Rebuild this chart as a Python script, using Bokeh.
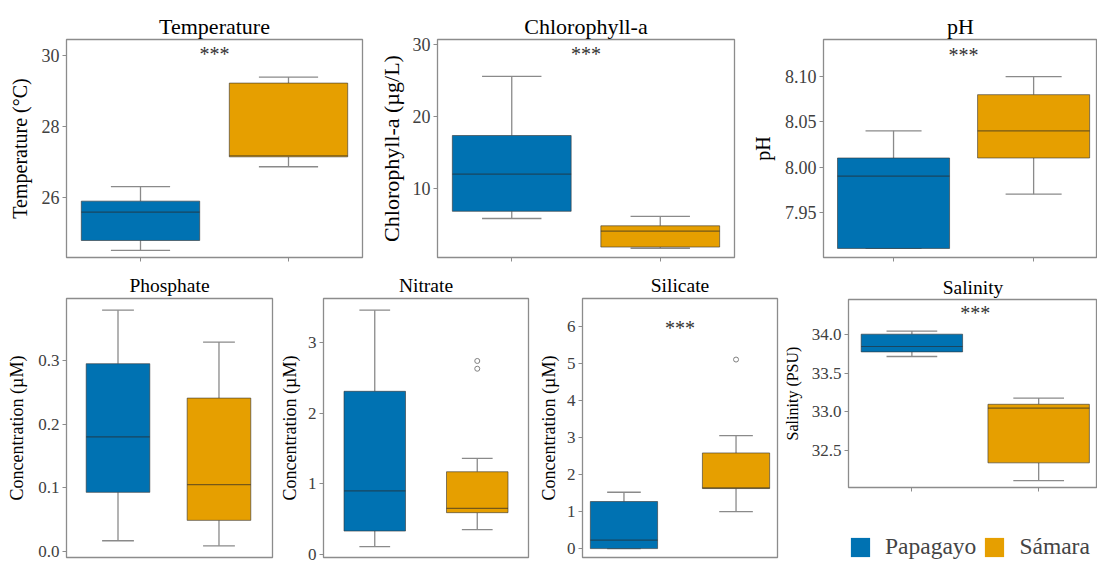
from bokeh.plotting import figure
from bokeh.layouts import row, column
from bokeh.models import (FixedTicker, Range1d, Legend, LegendItem,
                          ColumnDataSource, NumeralTickFormatter,
                          CustomJSTickFormatter)
from bokeh.embed import file_html
from bokeh.resources import INLINE
from bokeh.core.properties import value

FONT = "Liberation Serif"
BLUE = "#0072B2"
ORANGE = "#E69F00"

# ---------------- data ----------------
sites = ["Papagayo", "Sámara"]
site_pos = [1, 2]
site_colors = [BLUE, ORANGE]

# Temperature (°C)
temp_lower = [24.50, 26.86]
temp_q1 = [24.78, 27.14]
temp_median = [25.58, 27.17]
temp_q3 = [25.89, 29.22]
temp_upper = [26.30, 29.39]
temp_ticks = [26, 28, 30]

# Chlorophyll-a (µg/L)
chl_lower = [5.9, 1.78]
chl_q1 = [6.9, 1.95]
chl_median = [12.05, 4.15]
chl_q3 = [17.4, 4.89]
chl_upper = [25.6, 6.2]
chl_ticks = [10, 20, 30]

# pH
ph_lower = [7.91, 7.97]
ph_q1 = [7.91, 8.01]
ph_median = [7.99, 8.04]
ph_q3 = [8.01, 8.08]
ph_upper = [8.04, 8.10]
ph_ticks = [7.95, 8.00, 8.05, 8.10]

# Phosphate (µM)
po4_lower = [0.017, 0.009]
po4_q1 = [0.093, 0.049]
po4_median = [0.180, 0.105]
po4_q3 = [0.295, 0.241]
po4_upper = [0.379, 0.329]
po4_ticks = [0.0, 0.1, 0.2, 0.3]

# Nitrate (µM)
no3_lower = [0.11, 0.35]
no3_q1 = [0.33, 0.59]
no3_median = [0.90, 0.65]
no3_q3 = [2.31, 1.17]
no3_upper = [3.46, 1.36]
no3_ticks = [0, 1, 2, 3]
no3_out_site = [2, 2]
no3_out_value = [2.74, 2.63]

# Silicate (µM)
si_lower = [0.0, 1.00]
si_q1 = [0.0, 1.62]
si_median = [0.23, 1.64]
si_q3 = [1.27, 2.58]
si_upper = [1.52, 3.05]
si_ticks = [0, 1, 2, 3, 4, 5, 6]
si_out_site = [2]
si_out_value = [5.10]

# Salinity (PSU)
sal_lower = [33.72, 32.11]
sal_q1 = [33.78, 32.34]
sal_median = [33.85, 33.05]
sal_q3 = [34.01, 33.10]
sal_upper = [34.05, 33.18]
sal_ticks = [32.5, 33.0, 33.5, 34.0]

sig_label = "***"

BOX_LINE = dict(line_color="#333333", line_alpha=0.6, line_width=1)


def box_source(lower, q1, med, q3, upper, box_w):
    half = box_w / 2.0
    cap = box_w / 4.0
    return ColumnDataSource(dict(
        x=site_pos, lower=lower, q1=q1, median=med, q3=q3, upper=upper,
        color=site_colors,
        bl=[v - half for v in site_pos], br=[v + half for v in site_pos],
        cl=[v - cap for v in site_pos], cr=[v + cap for v in site_pos]))


def panel(title, ylabel, src, ticks, fmt, yr, xr, box_w, width, height,
          bl, br, bt, bb, title_size, label_size, tick_size, xaxis=True,
          sig_y=None, out_x=None, out_y=None, title_standoff=2,
          label_standoff=8):
    p = figure(width=width, height=height, x_range=Range1d(*xr),
               y_range=Range1d(*yr), toolbar_location=None,
               output_backend="svg", min_border_left=bl, min_border_right=br,
               min_border_top=bt, min_border_bottom=bb,
               x_axis_location="below" if xaxis else None, title=title,
               background_fill_color="white", border_fill_color="white")
    p.grid.visible = False
    p.outline_line_color = "#8c8c8c"
    p.outline_line_width = 1.3

    p.title.align = "center"
    p.title.text_font = FONT
    p.title.text_font_style = "normal"
    p.title.text_font_size = title_size
    p.title.text_color = "black"
    p.title.standoff = title_standoff

    wk = dict(line_color="#8a8a8a", line_width=1.3)
    p.segment(x0="x", y0="q3", x1="x", y1="upper", source=src, **wk)
    p.segment(x0="x", y0="lower", x1="x", y1="q1", source=src, **wk)
    p.segment(x0="cl", y0="upper", x1="cr", y1="upper", source=src, **wk)
    p.segment(x0="cl", y0="lower", x1="cr", y1="lower", source=src, **wk)
    p.vbar(x="x", width=box_w, bottom="q1", top="q3", source=src,
           fill_color="color", **BOX_LINE)
    p.segment(x0="bl", y0="median", x1="br", y1="median", source=src,
              line_color="#2a2a2a", line_alpha=0.6, line_width=1.2)

    if out_x is not None:
        p.scatter(x=out_x, y=out_y, marker="circle", size=5,
                  fill_color=None, line_color="#808080", line_width=1)

    if sig_y is not None:
        p.text(x=[1.5], y=[sig_y], text=[sig_label],
               text_font=value(FONT), text_font_size="20px",
               text_align="center", text_baseline="middle",
               text_color="#333333")

    ya = p.yaxis[0]
    ya.axis_label = ylabel
    ya.axis_label_text_font = FONT
    ya.axis_label_text_font_style = "normal"
    ya.axis_label_text_font_size = label_size
    ya.axis_label_text_color = "black"
    ya.axis_label_standoff = label_standoff
    ya.major_label_text_font = FONT
    ya.major_label_text_font_size = tick_size
    ya.major_label_text_color = "#404040"
    ya.major_label_standoff = 3
    ya.major_tick_out = 4
    ya.major_tick_in = 0
    ya.minor_tick_out = 0
    ya.minor_tick_in = 0
    ya.axis_line_color = None
    ya.major_tick_line_color = "#8c8c8c"
    ya.ticker = FixedTicker(ticks=ticks, minor_ticks=[])
    ya.formatter = NumeralTickFormatter(format=fmt)

    if xaxis:
        xa = p.xaxis[0]
        xa.ticker = FixedTicker(ticks=site_pos, minor_ticks=[])
        xa.formatter = CustomJSTickFormatter(code="return ''")
        xa.major_label_standoff = 0
        xa.major_tick_out = 4
        xa.major_tick_in = 0
        xa.axis_line_color = None
        xa.major_tick_line_color = "#8c8c8c"
    return p


TOP_H = 270
BOT_H = 291
SAL_H = 230

temp_src = box_source(temp_lower, temp_q1, temp_median, temp_q3, temp_upper, 0.8)
chl_src = box_source(chl_lower, chl_q1, chl_median, chl_q3, chl_upper, 0.8)
ph_src = box_source(ph_lower, ph_q1, ph_median, ph_q3, ph_upper, 0.8)
po4_src = box_source(po4_lower, po4_q1, po4_median, po4_q3, po4_upper, 0.63)
no3_src = box_source(no3_lower, no3_q1, no3_median, no3_q3, no3_upper, 0.6)
si_src = box_source(si_lower, si_q1, si_median, si_q3, si_upper, 0.6)
sal_src = box_source(sal_lower, sal_q1, sal_median, sal_q3, sal_upper, 0.8)

f1 = panel("Temperature", "Temperature (°C)", temp_src, temp_ticks, "0",
           (24.3, 30.45), (0.5, 2.5), 0.8, 375, TOP_H, 66, 13, 38, 11,
           "22px", "20px", "18px", sig_y=30.03)
f2 = panel("Chlorophyll-a", "Chlorophyll-a (µg/L)", chl_src, chl_ticks, "0",
           (0.5, 30.7), (0.5, 2.5), 0.8, 373, TOP_H, 62, 14, 39, 11,
           "22px", "22px", "18px", sig_y=28.7, label_standoff=6)
f3 = panel("pH", "pH", ph_src, ph_ticks, "0.00", (7.900, 8.141),
           (0.5, 2.456), 0.8, 349, TOP_H, 61, 0, 38, 13, "22px", "20px",
           "18px", sig_y=8.124)

f4 = panel("Phosphate", "Concentration (µM)", po4_src, po4_ticks, "0.0",
           (-0.0093, 0.3974), (0.49, 2.53), 0.63, 276, BOT_H, 66, 4, 28, 4,
           "19.5px", "18px", "17px", xaxis=False, title_standoff=5)
f5 = panel("Nitrate", "Concentration (µM)", no3_src, no3_ticks, "0",
           (-0.045, 3.625), (0.5, 2.5), 0.6, 259, BOT_H, 43, 7, 28, 4,
           "19.5px", "18px", "17px", xaxis=False, title_standoff=5,
           out_x=no3_out_site, out_y=no3_out_value, label_standoff=5)
f6 = panel("Silicate", "Concentration (µM)", si_src, si_ticks, "0",
           (-0.24, 6.747), (0.63, 2.37), 0.6, 245, BOT_H, 43, 3, 28, 4,
           "19.5px", "18px", "17px", xaxis=False, sig_y=5.94,
           title_standoff=5, out_x=si_out_site, out_y=si_out_value,
           label_standoff=5)
f7 = panel("Salinity", "Salinity (PSU)", sal_src, sal_ticks, "0.0",
           (32.02, 34.46), (0.5, 2.464), 0.8, 317, SAL_H, 62, 0, 29, 13,
           "19.5px", "16px", "17px", sig_y=34.29, title_standoff=3)

# legend panel under the salinity plot (swatches taken from the same boxes)
leg = figure(width=317, height=BOT_H - SAL_H, toolbar_location=None,
             output_backend="svg", x_axis_location=None,
             y_axis_location=None, min_border=0, outline_line_color=None,
             x_range=Range1d(0, 1), y_range=Range1d(0, 1),
             background_fill_color="white", border_fill_color="white")
leg.grid.visible = False
swatch = leg.vbar(x="x", width=0.8, bottom="q1", top="q3", source=sal_src,
                  fill_color="color", line_color=None)
swatch.visible = False
items = [LegendItem(label=name, renderers=[swatch], index=i)
         for i, name in enumerate(sites)]
legend = Legend(items=items, orientation="horizontal", location=(0, 1),
                glyph_width=24, glyph_height=24, label_text_font=FONT,
                label_text_font_size="23.5px", label_standoff=13, spacing=6,
                padding=0, margin=0, border_line_color=None,
                background_fill_alpha=0)
leg.add_layout(legend)

layout = column(row(f1, f2, f3), row(f4, f5, f6, column(f7, leg)))

open("out.html", "w").write(file_html(layout, INLINE))
